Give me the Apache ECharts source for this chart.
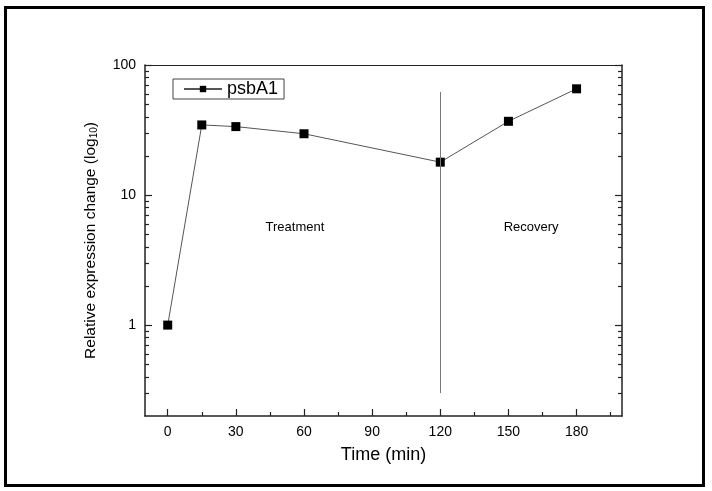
<!DOCTYPE html>
<html>
<head>
<meta charset="utf-8">
<script src="https://cdn.jsdelivr.net/npm/echarts@6/dist/echarts.min.js"></script>
<style>
  html, body { margin: 0; padding: 0; background: #fff; }
  #frame { position: absolute; left: 4px; top: 6px; width: 695px; height: 475px; border: 3px solid #000; }
  #main { position: absolute; left: 0; top: 0; width: 712px; height: 491px; }
</style>
</head>
<body>
<div id="frame"></div>
<div id="main"></div>
<script>
// data
var timePoints = [0, 15, 30, 60, 120, 150, 180];
var psbA1 = [1, 34.6, 33.6, 29.6, 17.9, 36.9, 65.6];

var xMajorTicks = [0, 30, 60, 90, 120, 150, 180];
var xMinorTicks = [15, 45, 75, 105, 135, 165, 195];
var yMajorTicks = [1, 10, 100];
var yMinorTicks = [0.3, 0.4, 0.5, 0.6, 0.7, 0.8, 0.9, 2, 3, 4, 5, 6, 7, 8, 9, 20, 30, 40, 50, 60, 70, 80, 90];

var phaseNames = ['Treatment', 'Recovery'];
var phaseX = [56, 160];
var phaseY = [5.6, 5.6];
var dividerX = 120;
var dividerY = [0.3, 62];

var font = 'Liberation Sans, Arial, sans-serif';

var seriesData = timePoints.map(function (t, i) { return [t, psbA1[i]]; });
var phaseMarks = phaseNames.map(function (n, i) {
  return { name: n, coord: [phaseX[i], phaseY[i]] };
});

function logAxis(pos, ticks, len, withLine) {
  return {
    type: 'log', logBase: 10, min: 0.2, max: 100, position: pos,
    axisLine: { show: withLine, onZero: false, lineStyle: { color: '#222', width: 1.5 } },
    axisTick: { show: true, inside: true, length: len, customValues: ticks, lineStyle: { color: '#222', width: 1.2 } },
    axisLabel: { show: false },
    splitLine: { show: false },
    minorTick: { show: false }
  };
}

var myChart = echarts.init(document.getElementById('main'));
var option = {
  animation: false,
  backgroundColor: 'transparent',
  textStyle: { fontFamily: font },
  grid: { left: 145, top: 65, right: 90, bottom: 75 },
  legend: {
    left: 173, top: 79,
    itemWidth: 38, itemHeight: 8, itemGap: 4,
    padding: [1, 6, 1, 10],
    borderColor: '#444', borderWidth: 1,
    textStyle: { fontSize: 18, color: '#000', fontFamily: font },
    data: ['psbA1']
  },
  xAxis: [
    {
      type: 'value', min: -10, max: 200, position: 'bottom',
      name: 'Time (min)', nameLocation: 'middle', nameGap: 30,
      nameTextStyle: { fontSize: 18, color: '#000', fontFamily: font },
      axisLine: { onZero: false, lineStyle: { color: '#222', width: 1.5 } },
      axisTick: { inside: true, length: 7, customValues: xMajorTicks, lineStyle: { color: '#222', width: 1.2 } },
      axisLabel: { customValues: xMajorTicks, fontSize: 14, color: '#000', margin: 9, fontFamily: font },
      splitLine: { show: false }
    },
    {
      type: 'value', min: -10, max: 200, position: 'bottom',
      axisLine: { show: false, onZero: false },
      axisTick: { inside: true, length: 4, customValues: xMinorTicks, lineStyle: { color: '#222', width: 1.2 } },
      axisLabel: { show: false },
      splitLine: { show: false }
    },
    {
      type: 'value', min: -10, max: 200, position: 'top',
      axisLine: { onZero: false, lineStyle: { color: '#222', width: 1 } },
      axisTick: { show: false },
      axisLabel: { show: false },
      splitLine: { show: false }
    }
  ],
  yAxis: [
    {
      type: 'log', logBase: 10, min: 0.2, max: 100, position: 'left',
      name: '{a|Relative expression change (log}{s|10}{a|)}',
      nameLocation: 'middle', nameRotate: 90, nameGap: 46,
      nameTextStyle: {
        rich: {
          a: { fontSize: 15.5, color: '#000', fontFamily: font, lineHeight: 18, verticalAlign: 'bottom' },
          s: { fontSize: 10, color: '#000', fontFamily: font, lineHeight: 14, verticalAlign: 'bottom' }
        }
      },
      axisLine: { onZero: false, lineStyle: { color: '#222', width: 1.5 } },
      axisTick: { inside: true, length: 7, customValues: yMajorTicks, lineStyle: { color: '#222', width: 1.2 } },
      axisLabel: { customValues: yMajorTicks, fontSize: 14, color: '#000', margin: 9, fontFamily: font },
      splitLine: { show: false },
      minorTick: { show: false }
    },
    logAxis('left', yMinorTicks, 4, false),
    logAxis('right', yMajorTicks, 7, true),
    logAxis('right', yMinorTicks, 4, false)
  ],
  series: [
    {
      name: 'psbA1',
      type: 'line',
      data: seriesData,
      symbol: 'rect',
      symbolSize: 9,
      itemStyle: { color: '#000' },
      lineStyle: { color: '#555', width: 1 },
      markLine: {
        silent: true,
        symbol: 'none',
        label: { show: false },
        lineStyle: { color: '#777', width: 1, type: 'solid' },
        data: [[{ coord: [dividerX, dividerY[0]] }, { coord: [dividerX, dividerY[1]] }]]
      },
      markPoint: {
        silent: true,
        symbol: 'circle',
        symbolSize: 1,
        itemStyle: { color: 'transparent' },
        label: {
          show: true, position: 'inside', formatter: '{b}',
          fontSize: 13, color: '#000', fontFamily: font
        },
        data: phaseMarks
      }
    }
  ]
};
myChart.setOption(option);
</script>
</body>
</html>
